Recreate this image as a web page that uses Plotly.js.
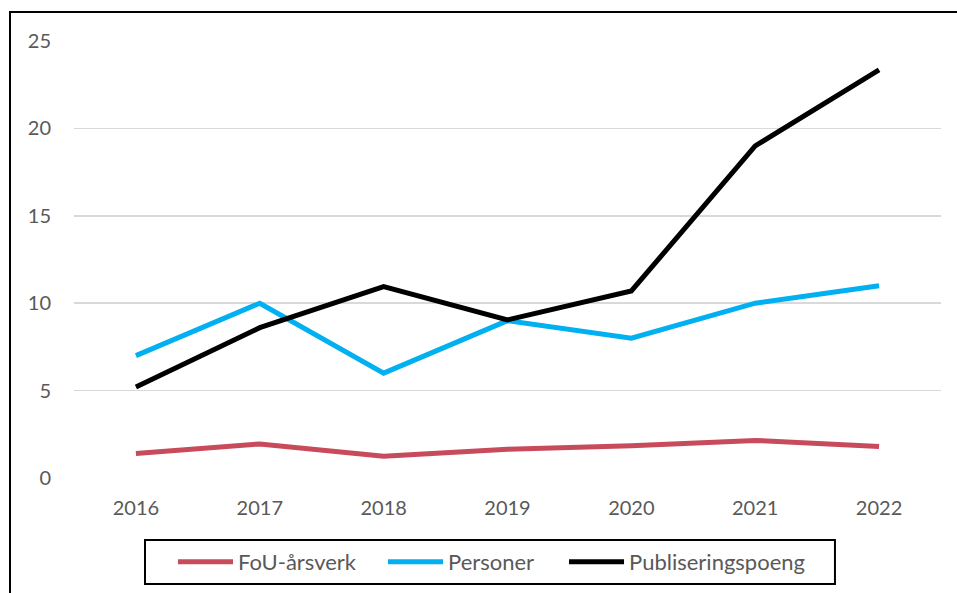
<!DOCTYPE html>
<html>
<head>
<meta charset="utf-8">
<script src="https://cdn.plot.ly/plotly-3.0.1.min.js"></script>
<style>
html,body{margin:0;padding:0;background:#fff;}
#wrap{position:relative;width:957px;height:593px;overflow:hidden;}
#chart{position:absolute;left:0;top:0;width:957px;height:593px;}
#frame{position:absolute;left:9px;top:11px;width:1000px;height:700px;border-left:2px solid #000;border-top:2px solid #000;pointer-events:none;}
</style>
</head>
<body>
<div id="wrap"><div id="chart"></div><div id="frame"></div></div>
<script>
const years = ['2016','2017','2018','2019','2020','2021','2022'];
const fouArsverk = [1.4, 1.95, 1.25, 1.65, 1.85, 2.15, 1.8];
const personer = [7, 10, 6, 9, 8, 10, 11];
const publiseringspoeng = [5.2, 8.6, 10.95, 9.05, 10.7, 19.0, 23.35];
const seriesNames = ['FoU-årsverk', 'Personer', 'Publiseringspoeng'];
const yTicks = [0, 5, 10, 15, 20, 25];

const font = 'Lato, "Open Sans", sans-serif';
const textColor = '#595959';

const traces = [
  {x: years, y: fouArsverk, name: seriesNames[0], type: 'scatter', mode: 'lines',
   line: {color: '#C84B5B', width: 5}, legend: 'legend'},
  {x: years, y: personer, name: seriesNames[1], type: 'scatter', mode: 'lines',
   line: {color: '#00B0F0', width: 5}, legend: 'legend2'},
  {x: years, y: publiseringspoeng, name: seriesNames[2], type: 'scatter', mode: 'lines',
   line: {color: '#000000', width: 5}, legend: 'legend3'}
];

function leg(x) {
  return {
    orientation: 'h', x: x, xanchor: 'left', y: -0.192, yanchor: 'middle',
    borderwidth: 0, bgcolor: 'rgba(0,0,0,0)',
    itemwidth: 55, font: {family: font, size: 22, color: textColor}
  };
}

const layout = {
  width: 957, height: 593,
  margin: {l: 74, r: 16, t: 41, b: 115, autoexpand: false},
  paper_bgcolor: '#fff', plot_bgcolor: '#fff',
  font: {family: font, size: 20, color: textColor},
  showlegend: true,
  xaxis: {
    type: 'category', range: [-0.5, 6.5], showgrid: false, zeroline: false, showline: false,
    ticks: '', ticklabelstandoff: 16,
    tickfont: {family: font, size: 20, color: textColor}
  },
  yaxis: {
    range: [0, 25], tickvals: yTicks, ticktext: yTicks.map(String),
    showgrid: true, gridcolor: '#D9D9D9', gridwidth: 1.5,
    zeroline: false, showline: false, ticks: '', ticklabelstandoff: 22,
    tickfont: {family: font, size: 20, color: textColor}
  },
  legend: leg(0.1142),
  legend2: leg(0.3564),
  legend3: leg(0.5652),
  shapes: [{
    type: 'rect', xref: 'paper', yref: 'paper',
    x0: 0.0819, x1: 0.8777, y0: -0.1419, y1: -0.2426,
    line: {color: '#000', width: 2}, fillcolor: 'rgba(0,0,0,0)'
  }]
};

Plotly.newPlot('chart', traces, layout, {displayModeBar: false, staticPlot: true});
</script>
</body>
</html>
